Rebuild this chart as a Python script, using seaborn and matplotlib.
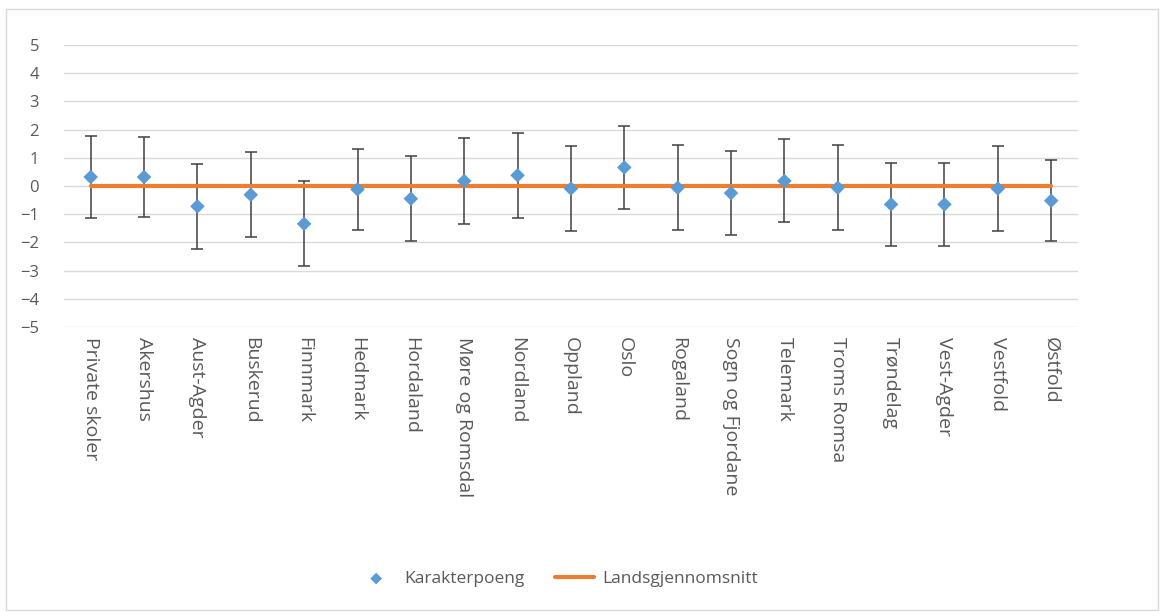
import pandas as pd
import matplotlib.pyplot as plt
import seaborn as sns

# Data
fylker = ["Private skoler", "Akershus", "Aust-Agder", "Buskerud", "Finnmark", "Hedmark",
          "Hordaland", "Møre og Romsdal", "Nordland", "Oppland", "Oslo", "Rogaland",
          "Sogn og Fjordane", "Telemark", "Troms Romsa", "Trøndelag", "Vest-Agder",
          "Vestfold", "Østfold"]
karakterpoeng = [0.32, 0.32, -0.72, -0.31, -1.34, -0.12, -0.45, 0.18, 0.38, -0.09,
                 0.66, -0.06, -0.25, 0.18, -0.06, -0.65, -0.65, -0.09, -0.52]
feil = [1.47, 1.43, 1.5, 1.5, 1.51, 1.43, 1.5, 1.51, 1.5, 1.5,
        1.47, 1.5, 1.5, 1.47, 1.5, 1.47, 1.47, 1.5, 1.43]
landssnitt = [0] * len(fylker)

df = pd.DataFrame({"Fylke": fylker, "Karakterpoeng": karakterpoeng,
                   "Feil": feil, "Landsgjennomsnitt": landssnitt})
df["pos"] = range(len(df))

sns.set_style("white")
plt.rcParams["font.family"] = ["Open Sans", "DejaVu Sans"]

fig = plt.figure(figsize=(11.64, 6.16), dpi=100)
ax = fig.add_axes([0.055, 0.469, 0.871, 0.458])

# ramme rundt hele figuren
fig.patches.append(plt.Rectangle((0.005, 0.01), 0.99, 0.975, transform=fig.transFigure,
                                 fill=False, edgecolor="#d9d9d9", linewidth=1))

ax.errorbar(df["pos"], df["Karakterpoeng"], yerr=df["Feil"], fmt="none",
            ecolor="#404040", elinewidth=1.1, capsize=4, capthick=1.1, zorder=2)
sns.lineplot(data=df, x="pos", y="Landsgjennomsnitt", color="#ED7D31", linewidth=3,
             ax=ax, zorder=3, label="Landsgjennomsnitt", legend=False)
sns.scatterplot(data=df, x="pos", y="Karakterpoeng", marker="D", s=55, color="#5B9BD5",
                edgecolor="none", ax=ax, zorder=4, label="Karakterpoeng", legend=False)

ax.set_xlim(-0.5, len(df) - 0.5)
ax.set_ylim(-5, 5)
ax.set_yticks(range(-5, 6))
ax.set_xticks(df["pos"])
ax.set_xticklabels(df["Fylke"], rotation=270, ha="center", va="top")
ax.tick_params(axis="both", length=0, labelcolor="#595959")
ax.tick_params(axis="y", pad=18, labelsize=12)
ax.tick_params(axis="x", pad=7, labelsize=14)
ax.grid(axis="y", color="#d9d9d9", linewidth=1)
for s in ax.spines.values():
    s.set_visible(False)
ax.set_xlabel("")
ax.set_ylabel("")

handles, labels = ax.get_legend_handles_labels()
order = [labels.index("Karakterpoeng"), labels.index("Landsgjennomsnitt")]
leg = fig.legend([handles[i] for i in order], [labels[i] for i in order],
                 loc="center", bbox_to_anchor=(0.479, 0.06), ncol=2, frameon=False,
                 fontsize=12.5, labelcolor="#595959", columnspacing=1.8,
                 handlelength=2.2, handletextpad=0.5, markerscale=0.8)

plt.savefig("out.png", dpi=100)
plt.close()
